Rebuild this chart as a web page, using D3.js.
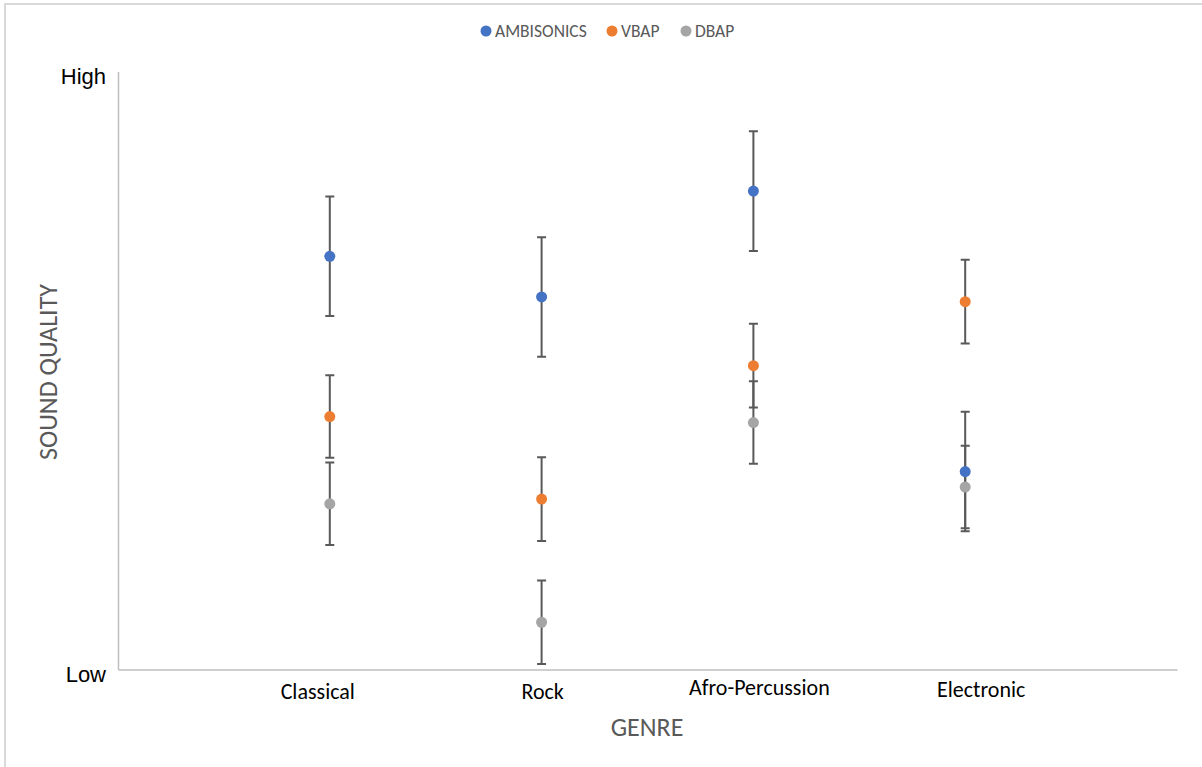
<!DOCTYPE html>
<html>
<head>
<meta charset="utf-8">
<script src="https://cdnjs.cloudflare.com/ajax/libs/d3/7.8.5/d3.min.js"></script>
<style>
  body { margin: 0; background: #fff; }
  svg { display: block; font-family: Carlito, Calibri, Lato, sans-serif; }
</style>
</head>
<body>
<div id="chart"></div>
<script>
// genres along the x axis
const genres = ['Classical', 'Rock', 'Afro-Percussion', 'Electronic'];
const seriesNames = ['AMBISONICS', 'VBAP', 'DBAP'];
const seriesColors = ['#4472C4', '#ED7D31', '#A5A5A5'];

// sound quality on a 0..10 scale (Low..High), one value per genre
const ambisonics = [6.91, 6.23, 8.00, 3.31];
const vbap = [4.23, 2.85, 5.08, 6.15];
const dbap = [2.77, 0.79, 4.13, 3.05];

// +/- error amounts
const ambisonicsErr = [1.0, 1.0, 1.0, 1.0];
const vbapErr = [0.69, 0.70, 0.70, 0.70];
const dbapErr = [0.69, 0.70, 0.69, 0.69];

const yTickValues = [0, 10];
const yTickLabels = ['Low', 'High'];

const
  width = 1202,
  height = 767

const svg = d3.select('#chart').append('svg')
  .attr('width', width)
  .attr('height', height);

// outer chart frame (only top and left edges are in view)
svg.append('path')
  .attr('d', 'M5,' + height + 'V4H' + width)
  .attr('fill', 'none')
  .attr('stroke', '#d9d9d9')
  .attr('stroke-width', 2);

const x = d3.scaleLinear().domain([0, genres.length + 1]).range([118, 1177]);
const y = d3.scaleLinear().domain([0, 10]).range([669.5, 71.5]);

// axes lines
const xAxis = svg.append('g')
  .attr('transform', 'translate(0,' + y(0) + ')')
  .call(d3.axisBottom(x).tickValues([]).tickSizeOuter(0));
xAxis.select('.domain').attr('stroke', '#bfbfbf').attr('stroke-width', 1.5);

const yAxis = svg.append('g')
  .attr('transform', 'translate(' + x(0) + ',0)')
  .call(d3.axisLeft(y).tickValues(yTickValues).tickSize(0)
    .tickFormat((d, i) => yTickLabels[i]));
yAxis.select('.domain').attr('stroke', '#bfbfbf').attr('stroke-width', 1.5);
yAxis.selectAll('text')
  .attr('x', -12)
  .attr('y', 4)
  .attr('dy', '0.38em')
  .attr('fill', '#000')
  .attr('font-size', 22)
  .attr('font-family', null);

// category labels, nudged like the text boxes in the original
const labelShift = [-12, 1, 6, 16];
const labelDrop = [0, 0, -4, -2];
svg.append('g').selectAll('text')
  .data(genres)
  .join('text')
    .attr('x', (d, i) => x(i + 1) + labelShift[i])
    .attr('y', (d, i) => 699 + labelDrop[i])
    .attr('text-anchor', 'middle')
    .attr('font-size', 22)
    .attr('fill', '#000')
    .text(d => d);

// axis titles
svg.append('text')
  .attr('x', 647)
  .attr('y', 736)
  .attr('text-anchor', 'middle')
  .attr('font-size', 26)
  .attr('fill', '#595959')
  .text('GENRE');

svg.append('text')
  .attr('transform', 'translate(57,372) rotate(-90)')
  .attr('text-anchor', 'middle')
  .attr('font-size', 26)
  .attr('fill', '#595959')
  .text('SOUND QUALITY');

// build series table
const values = [ambisonics, vbap, dbap];
const errors = [ambisonicsErr, vbapErr, dbapErr];
const points = [];
seriesNames.forEach((s, si) => {
  genres.forEach((g, gi) => {
    points.push({ series: si, genre: gi, value: values[si][gi], err: errors[si][gi] });
  });
});

// error bars
const capHalf = 4.5;
const bars = svg.append('g')
  .attr('stroke', '#595959')
  .attr('stroke-width', 2)
  .attr('fill', 'none');

bars.selectAll('path')
  .data(points)
  .join('path')
    .attr('d', d => {
      const cx = x(d.genre + 1),
        top = y(d.value + d.err),
        bot = y(d.value - d.err);
      return 'M' + cx + ',' + top + 'V' + bot +
        'M' + (cx - capHalf) + ',' + top + 'H' + (cx + capHalf) +
        'M' + (cx - capHalf) + ',' + bot + 'H' + (cx + capHalf);
    });

// markers
svg.append('g').selectAll('circle')
  .data(points)
  .join('circle')
    .attr('cx', d => x(d.genre + 1))
    .attr('cy', d => y(d.value))
    .attr('r', 5.5)
    .attr('fill', d => seriesColors[d.series]);

// legend
const legendX = [486, 612, 686];
const legend = svg.append('g').selectAll('g')
  .data(seriesNames)
  .join('g')
    .attr('transform', (d, i) => 'translate(' + legendX[i] + ',31)');

legend.append('circle')
  .attr('r', 5.5)
  .attr('fill', (d, i) => seriesColors[i]);

legend.append('text')
  .attr('x', 9)
  .attr('dy', '0.35em')
  .attr('font-size', 17.5)
  .attr('fill', '#595959')
  .text(d => d);
</script>
</body>
</html>
